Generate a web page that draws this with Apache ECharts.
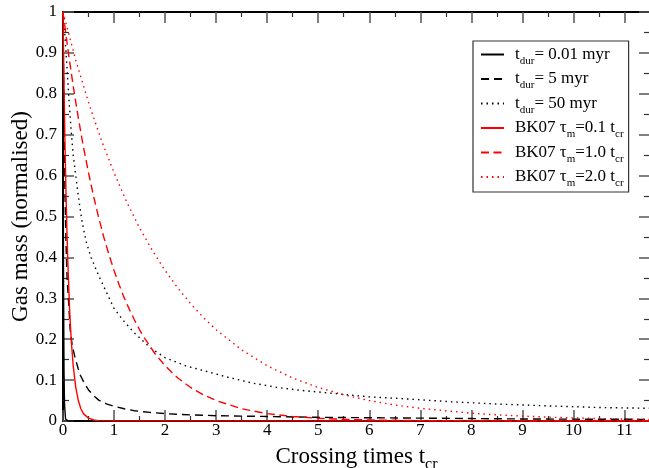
<!DOCTYPE html>
<html>
<head>
<meta charset="utf-8">
<script src="https://cdn.jsdelivr.net/npm/echarts@6/dist/echarts.min.js"></script>
<style>
  html, body { margin: 0; padding: 0; background: #fff; }
  #chart { width: 649px; height: 468px; }
</style>
</head>
<body>
<div id="chart"></div>
<script>
// Gas mass remaining versus crossing time for the simulation runs and the BK07 models
const xTicks = [0, 1, 2, 3, 4, 5, 6, 7, 8, 9, 10, 11];
const yTicks = [0, 0.1, 0.2, 0.3, 0.4, 0.5, 0.6, 0.7, 0.8, 0.9, 1];

const tDur001X = [0, 0.005, 0.01, 0.02, 0.03, 0.05, 0.1, 11.5];
const tDur001Y = [1, 0.6, 0.35, 0.12, 0.04, 0.005, 0, 0];

const tDur5X = [0, 0.01, 0.02, 0.04, 0.06, 0.08, 0.11, 0.14, 0.18, 0.24, 0.3, 0.34, 0.42, 0.5, 0.6, 0.7, 0.85, 1, 1.2, 1.4, 1.7, 2, 2.5, 3, 4, 5, 6, 7, 8, 9, 10, 11.5];
const tDur5Y = [1, 0.85, 0.72, 0.55, 0.43, 0.35, 0.29, 0.225, 0.185, 0.153, 0.127, 0.112, 0.092, 0.076, 0.062, 0.051, 0.042, 0.036, 0.030, 0.025, 0.021, 0.018, 0.015, 0.013, 0.011, 0.009, 0.008, 0.007, 0.006, 0.005, 0.0045, 0.004];

const tDur50X = [0, 0.04, 0.08, 0.12, 0.16, 0.2, 0.25, 0.3, 0.37, 0.45, 0.55, 0.7, 0.85, 1, 1.2, 1.4, 1.7, 2, 2.4, 2.7, 3.2, 3.7, 4.2, 4.65, 5, 5.5, 6, 6.6, 7.1, 7.6, 8.1, 8.6, 9.5, 10.5, 11.5];
const tDur50Y = [1, 0.94, 0.86, 0.78, 0.71, 0.65, 0.60, 0.55, 0.49, 0.44, 0.40, 0.355, 0.315, 0.275, 0.243, 0.215, 0.18, 0.155, 0.135, 0.125, 0.108, 0.093, 0.082, 0.075, 0.071, 0.065, 0.059, 0.055, 0.051, 0.047, 0.044, 0.041, 0.037, 0.033, 0.031];

const bk01X = [0, 0.02, 0.04, 0.06, 0.08, 0.1, 0.13, 0.16, 0.2, 0.25, 0.3, 0.35, 0.4, 0.5, 0.6, 0.7, 0.8, 1, 11.5];
const bk01Y = [1, 0.82, 0.67, 0.55, 0.45, 0.37, 0.27, 0.2, 0.135, 0.082, 0.05, 0.03, 0.018, 0.007, 0.0025, 0.001, 0.0003, 0, 0];

const bk10X = [0, 0.1, 0.2, 0.3, 0.4, 0.5, 0.6, 0.7, 0.8, 0.9, 1, 1.1, 1.2, 1.3, 1.4, 1.5, 1.6, 1.8, 2, 2.25, 2.5, 2.75, 3, 3.5, 4, 4.5, 5, 5.5, 6, 7, 8, 9, 10, 11.5];
const bk10Y = [1, 0.905, 0.819, 0.741, 0.670, 0.607, 0.549, 0.497, 0.449, 0.407, 0.368, 0.333, 0.301, 0.273, 0.247, 0.223, 0.202, 0.165, 0.135, 0.105, 0.082, 0.064, 0.050, 0.030, 0.018, 0.011, 0.0067, 0.0041, 0.0025, 0.0009, 0.0003, 0.0001, 0, 0];

const bk20X = [0, 0.25, 0.5, 0.75, 1, 1.25, 1.5, 1.75, 2, 2.25, 2.5, 2.75, 3, 3.5, 4, 4.5, 5, 5.5, 6, 6.5, 7, 7.5, 8, 8.5, 9, 9.5, 10, 10.5, 11, 11.5];
const bk20Y = [1, 0.882, 0.779, 0.687, 0.607, 0.535, 0.472, 0.417, 0.368, 0.325, 0.287, 0.253, 0.223, 0.174, 0.135, 0.105, 0.082, 0.064, 0.050, 0.039, 0.031, 0.025, 0.019, 0.015, 0.012, 0.0095, 0.0075, 0.006, 0.0048, 0.004];

const seriesNames = ['tdur001', 'tdur5', 'tdur50', 'bk01', 'bk10', 'bk20'];
const legendLabels = {
  tdur001: '{t|t}{s|dur}{t|= 0.01 myr}',
  tdur5: '{t|t}{s|dur}{t|= 5 myr}',
  tdur50: '{t|t}{s|dur}{t|= 50 myr}',
  bk01: '{t|BK07 \u03c4}{s|m}{t|=0.1 t}{s|cr}',
  bk10: '{t|BK07 \u03c4}{s|m}{t|=1.0 t}{s|cr}',
  bk20: '{t|BK07 \u03c4}{s|m}{t|=2.0 t}{s|cr}'
};

const FONT = 'Liberation Serif';

function pairs(xs, ys) {
  return xs.map((x, i) => [x, ys[i]]);
}

function curve(name, xs, ys, color, dash) {
  return {
    name: name,
    type: 'line',
    xAxisIndex: 0,
    yAxisIndex: 0,
    data: pairs(xs, ys),
    showSymbol: false,
    symbol: 'none',
    smooth: false,
    animation: false,
    lineStyle: { color: color, width: 1.4, type: dash },
    itemStyle: { color: color },
    z: 3
  };
}

function xAxisDef(pos, showLabels) {
  return {
    type: 'value',
    position: pos,
    min: 0,
    max: 11.5,
    interval: 1,
    axisLine: { show: true, onZero: false, lineStyle: { color: '#000', width: 2 } },
    axisTick: { show: true, inside: true, length: 11, lineStyle: { color: '#555', width: 1.5 } },
    minorTick: { show: true, splitNumber: 2, length: 5, lineStyle: { color: '#333', width: 1.2 } },
    splitLine: { show: false },
    axisLabel: {
      show: showLabels,
      showMaxLabel: false,
      margin: 1,
      color: '#000',
      fontFamily: FONT,
      fontSize: 17
    }
  };
}

function yAxisDef(pos, showLabels) {
  return {
    type: 'value',
    position: pos,
    min: 0,
    max: 1,
    interval: 0.1,
    axisLine: { show: true, onZero: false, lineStyle: { color: '#000', width: 2 } },
    axisTick: { show: true, inside: true, length: 11, lineStyle: { color: '#555', width: 1.5 } },
    minorTick: { show: true, splitNumber: 2, length: 6, lineStyle: { color: '#333', width: 1.2 } },
    splitLine: { show: false },
    axisLabel: {
      show: showLabels,
      margin: 6,
      color: '#000',
      fontFamily: FONT,
      fontSize: 17
    }
  };
}

const xMain = xAxisDef('bottom', true);
xMain.name = '{a|Crossing times t}{s|cr}';
xMain.nameLocation = 'middle';
xMain.nameGap = 20;
xMain.nameTextStyle = {
  color: '#000',
  fontFamily: FONT,
  fontSize: 23,
  rich: {
    a: { fontFamily: FONT, fontSize: 23, color: '#000', lineHeight: 32, verticalAlign: 'middle' },
    s: { fontFamily: FONT, fontSize: 16, color: '#000', lineHeight: 12, verticalAlign: 'bottom' }
  }
};

const yMain = yAxisDef('left', true);
yMain.name = 'Gas mass (normalised)';
yMain.nameLocation = 'middle';
yMain.nameGap = 31;
yMain.nameRotate = 90;
yMain.nameMoveOverlap = false;
yMain.nameTextStyle = { color: '#000', fontFamily: FONT, fontSize: 23 };

const option = {
  backgroundColor: '#fff',
  animation: false,
  grid: { left: 63, top: 12, width: 587, height: 409, containLabel: false, outerBoundsMode: 'none' },
  xAxis: [xMain, xAxisDef('top', false)],
  yAxis: [yMain, yAxisDef('right', false)],
  legend: {
    orient: 'vertical',
    left: 473,
    top: 41,
    padding: [5, 5, 3, 7],
    itemGap: 4,
    itemWidth: 23,
    itemHeight: 14,
    borderColor: '#333',
    borderWidth: 1.2,
    backgroundColor: '#fff',
    itemStyle: { opacity: 0 },
    data: seriesNames,
    formatter: name => legendLabels[name],
    textStyle: {
      color: '#000',
      fontFamily: FONT,
      fontSize: 17,
      padding: [0, 0, 0, 6],
      rich: {
        t: { fontFamily: FONT, fontSize: 17, color: '#000', lineHeight: 24, verticalAlign: 'middle' },
        s: { fontFamily: FONT, fontSize: 11, color: '#000', lineHeight: 10, verticalAlign: 'bottom' }
      }
    }
  },
  series: [
    curve('tdur001', tDur001X, tDur001Y, '#000', 'solid'),
    curve('tdur5', tDur5X, tDur5Y, '#000', [8, 5]),
    curve('tdur50', tDur50X, tDur50Y, '#000', [1.5, 4]),
    curve('bk01', bk01X, bk01Y, '#ff0000', 'solid'),
    curve('bk10', bk10X, bk10Y, '#ff0000', [8, 4.5]),
    curve('bk20', bk20X, bk20Y, '#ff0000', [1.5, 4])
  ]
};

const chart = echarts.init(document.getElementById('chart'), null, { renderer: 'canvas' });
chart.setOption(option);
</script>
</body>
</html>
